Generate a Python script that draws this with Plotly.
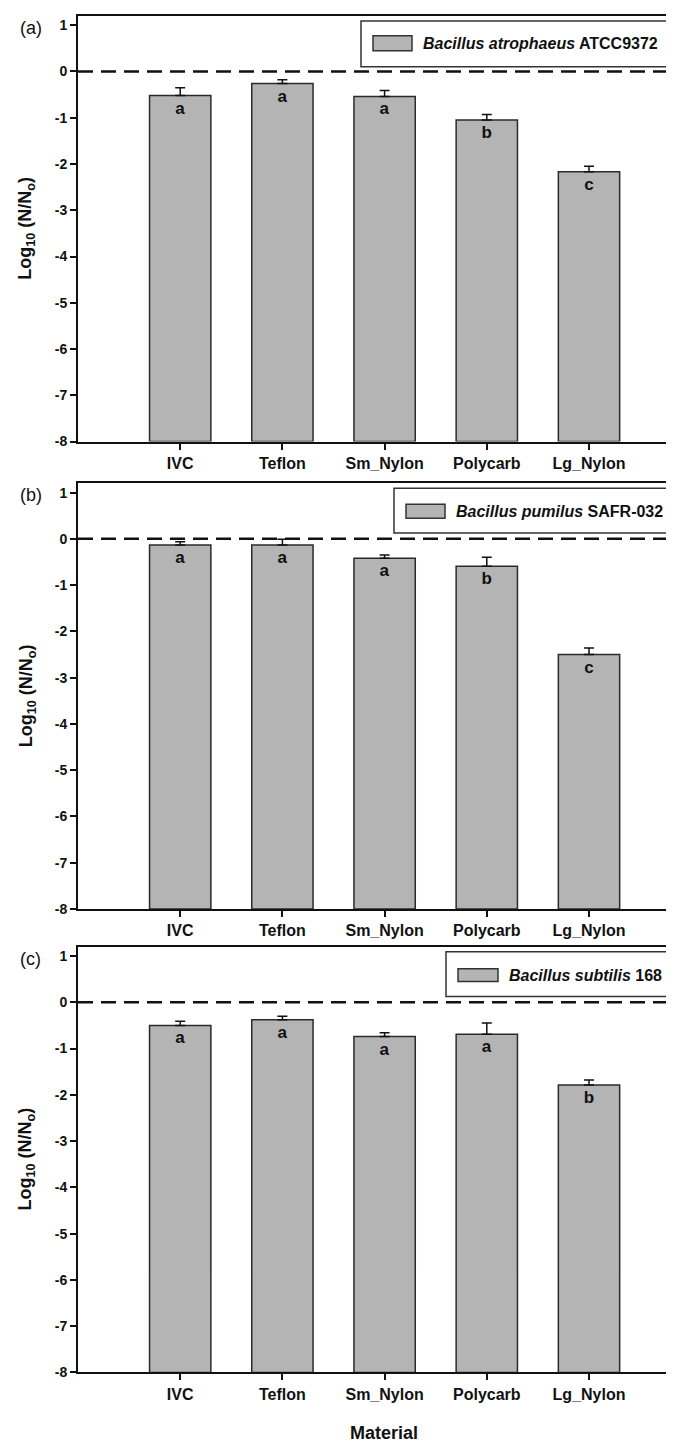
import plotly.graph_objects as go

categories = ["IVC", "Teflon", "Sm_Nylon", "Polycarb", "Lg_Nylon"]

a_means = [-0.52, -0.26, -0.54, -1.05, -2.17]
a_err = [0.17, 0.08, 0.13, 0.12, 0.12]
a_letters = ["a", "a", "a", "b", "c"]

b_means = [-0.13, -0.13, -0.42, -0.59, -2.50]
b_err = [0.07, 0.12, 0.07, 0.19, 0.14]
b_letters = ["a", "a", "a", "b", "c"]

c_means = [-0.50, -0.38, -0.74, -0.69, -1.79]
c_err = [0.09, 0.08, 0.08, 0.24, 0.11]
c_letters = ["a", "a", "a", "a", "b"]

panel_labels = ["(a)", "(b)", "(c)"]
species = [("Bacillus atrophaeus", "ATCC9372"),
           ("Bacillus pumilus", "SAFR-032"),
           ("Bacillus subtilis", "168")]

y_ticks = [-8, -7, -6, -5, -4, -3, -2, -1, 0, 1]
y_floor = -8
y_top = 1.2

W, H = 674, 1443
ML = 70
FONT = "Liberation Sans, Arial, sans-serif"
BAR_FILL = "#b4b4b4"
BAR_LINE = "#2a2a2a"

def px_x(px):
    return (px - ML) / (W - ML)

def px_y(py):
    return (H - py) / H

# panel pixel extents (top, bottom) of plotting area
panels_px = [(8, 436), (478, 906), (944, 1372)]
# legend geometry: box left, box top, box bottom, patch left, patch right, patch top, patch bottom
legend_px = [
    (353, 13, 59, 365, 404, 28, 43),
    (386, 483, 528, 398, 437, 499, 513),
    (438, 949, 994, 450, 490, 966, 979),
]

series = [(a_means, a_err, a_letters), (b_means, b_err, b_letters), (c_means, c_err, c_letters)]

fig = go.Figure()
shapes = []
annotations = []

for i, (means, errs, letters) in enumerate(series):
    n = i + 1
    xa = "x" if n == 1 else f"x{n}"
    ya = "y" if n == 1 else f"y{n}"
    lengths = [m - y_floor for m in means]
    fig.add_trace(go.Bar(
        x=categories, y=lengths, base=[y_floor] * len(means),
        xaxis=xa, yaxis=ya, width=0.6,
        marker=dict(color=BAR_FILL, line=dict(color=BAR_LINE, width=1.5)),
        error_y=dict(type="data", symmetric=False, array=errs,
                     arrayminus=[0] * len(errs), color="#111111",
                     thickness=1.5, width=5),
        text=letters, textposition="inside", insidetextanchor="end",
        textangle=0,
        textfont=dict(family=FONT, size=17, color="#111111", weight="bold"),
        showlegend=False, cliponaxis=False,
    ))
    top, bot = panels_px[i]
    dom = [px_y(bot), px_y(top)]
    xkey = "xaxis" if n == 1 else f"xaxis{n}"
    ykey = "yaxis" if n == 1 else f"yaxis{n}"
    fig.layout[xkey] = dict(
        anchor=ya, domain=[0, 1], range=[-1, 4.91],
        showline=True, linecolor="#111111", linewidth=2, mirror=True,
        ticks="outside", ticklen=6, tickwidth=1.5, tickcolor="#111111",
        showgrid=False, zeroline=False,
        tickfont=dict(family=FONT, size=16, color="#111111", weight="bold"),
    )
    fig.layout[ykey] = dict(
        anchor=xa, domain=dom, range=[y_floor, y_top],
        tickvals=y_ticks, ticktext=[str(t) for t in y_ticks],
        showline=True, linecolor="#111111", linewidth=2,
        ticks="outside", ticklen=6, tickwidth=1.5, tickcolor="#111111",
        showgrid=False, zeroline=False,
        tickfont=dict(family=FONT, size=14, color="#111111", weight="bold"),
    )
    # dashed reference line at zero
    shapes.append(dict(type="line", xref=f"{xa} domain", yref=ya,
                       x0=0, x1=1, y0=0, y1=0,
                       line=dict(color="#111111", width=2.5, dash="15px,8px")))
    # legend box
    bl, bt, bb, pl, pr, pt, pb = legend_px[i]
    shapes.append(dict(type="rect", xref="paper", yref="paper",
                       x0=px_x(bl), x1=px_x(W + 10), y0=px_y(bb), y1=px_y(bt),
                       line=dict(color="#333333", width=1.5), fillcolor="white"))
    shapes.append(dict(type="rect", xref="paper", yref="paper",
                       x0=px_x(pl), x1=px_x(pr), y0=px_y(pb), y1=px_y(pt),
                       line=dict(color="#333333", width=1.5), fillcolor=BAR_FILL))
    sp_it, sp_rest = species[i]
    annotations.append(dict(
        xref="paper", yref="paper", x=px_x(pr + 9), y=px_y((pt + pb) / 2),
        xanchor="left", yanchor="middle", showarrow=False,
        text=f"<b><i>{sp_it}</i> {sp_rest}</b>",
        font=dict(family=FONT, size=16, color="#111111")))
    # panel label
    annotations.append(dict(
        xref="paper", yref="paper", x=px_x(10), y=px_y(top + 12),
        xanchor="left", yanchor="middle", showarrow=False,
        text=panel_labels[i], font=dict(family=FONT, size=18, color="#111111")))
    # y axis title
    annotations.append(dict(
        xref="paper", yref="paper", x=px_x(19), y=px_y((top + bot) / 2),
        xanchor="center", yanchor="middle", showarrow=False, textangle=-90,
        text="<b>Log<sub>10</sub> (N/N<sub>o</sub>)</b>",
        font=dict(family=FONT, size=18, color="#111111")))

annotations.append(dict(
    xref="paper", yref="paper", x=px_x(376), y=px_y(1433),
    xanchor="center", yanchor="middle", showarrow=False,
    text="<b>Material</b>", font=dict(family=FONT, size=18, color="#111111")))

fig.update_layout(
    width=W, height=H,
    margin=dict(l=ML, r=0, t=0, b=0),
    paper_bgcolor="white", plot_bgcolor="white",
    shapes=shapes, annotations=annotations,
    bargap=0.4, showlegend=False,
    font=dict(family=FONT, color="#111111"),
)

fig.write_html("out.html")
